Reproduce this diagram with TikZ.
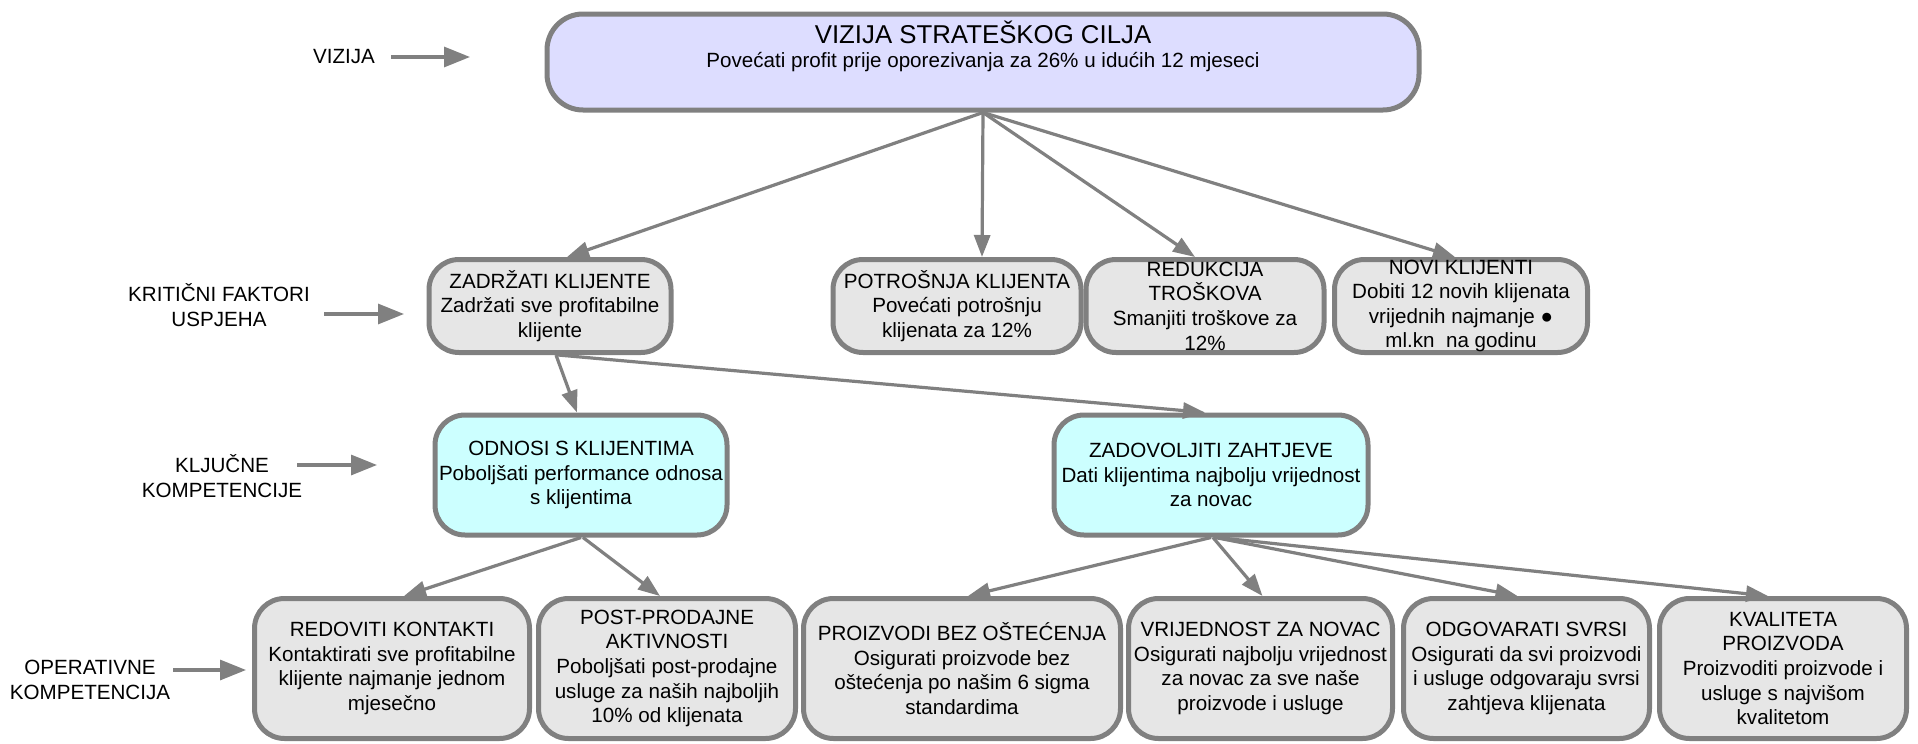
\documentclass[tikz,border=0pt]{standalone}
\usepackage{fontspec}
\setmainfont{Liberation Sans}
\usetikzlibrary{arrows.meta}
\definecolor{lgray}{RGB}{128,128,128}
\definecolor{bgray}{RGB}{230,230,230}
\definecolor{lav}{RGB}{221,221,255}
\definecolor{lcyan}{RGB}{204,255,255}
\newcommand{\bodyfont}{\fontsize{10.3}{12.3}\selectfont}
\begin{document}
\begin{tikzpicture}[x=0.5pt,y=-0.5pt,
  box/.style={draw=lgray,line width=2.5pt,rounded corners=15pt,fill=bgray,inner sep=0pt,align=center,font=\bodyfont},
  conn/.style={draw=lgray,line width=1.6pt,-{Triangle[length=11pt,width=8pt]}},
  lblarrow/.style={draw=lgray,line width=1.6pt,-{Triangle[length=13pt,width=10pt]}},
  lbl/.style={align=center,font=\bodyfont,inner sep=0pt}]
\fill[white] (0,0) rectangle (1918,744);
\useasboundingbox (0,0) rectangle (1918,744);

% top
\node[box,fill=lav,rounded corners=18pt,minimum width=436pt,minimum height=48pt] (top) at (983,62) {};
\node[anchor=base,font=\fontsize{12.9}{15}\selectfont,inner sep=0pt] (toptitle) at (983,43) {VIZIJA STRATEŠKOG CILJA};
\node[anchor=base,font=\bodyfont,inner sep=0pt] (topsub) at (983,68) {Povećati profit prije oporezivanja za 26\% u idućih 12 mjeseci};

% row 2
\node[box,minimum width=121pt,minimum height=46.5pt] (zad) at (550,306) {ZADRŽATI KLIJENTE\\Zadržati sve profitabilne\\klijente};
\node[box,minimum width=124pt,minimum height=46.5pt] (pot) at (957,306) {POTROŠNJA KLIJENTA\\Povećati potrošnju\\klijenata za 12\%};
\node[box,minimum width=119pt,minimum height=46.5pt] (red) at (1205,306) {REDUKCIJA\\TROŠKOVA\\Smanjiti troškove za\\12\%};
\node[box,minimum width=126.5pt,minimum height=46.5pt] (novi) at (1461,306) {NOVI KLIJENTI\\Dobiti 12 novih klijenata\\vrijednih najmanje ●\\ml.kn~ na godinu};

% row 3
\node[box,fill=lcyan,minimum width=146pt,minimum height=60pt] (odn) at (581,475) {ODNOSI S KLIJENTIMA\\Poboljšati performance odnosa\\s klijentima};
\node[box,fill=lcyan,minimum width=157pt,minimum height=60pt] (zadov) at (1211,475) {ZADOVOLJITI ZAHTJEVE\\Dati klijentima najbolju vrijednost\\za novac};

% row 4
\node[box,minimum width=137.5pt,minimum height=70pt] (redo) at (392,668.5) {REDOVITI KONTAKTI\\Kontaktirati sve profitabilne\\klijente najmanje jednom\\mjesečno};
\node[box,minimum width=128.5pt,minimum height=70pt] (post) at (667,668.5) {POST-PRODAJNE\\AKTIVNOSTI\\Poboljšati post-prodajne\\usluge za naših najboljih\\10\% od klijenata};
\node[box,minimum width=158.5pt,minimum height=70pt] (proiz) at (962,668.5) {PROIZVODI BEZ OŠTEĆENJA\\Osigurati proizvode bez\\oštećenja po našim 6 sigma\\standardima};
\node[box,minimum width=132pt,minimum height=70pt] (vrij) at (1260.5,668.5) {VRIJEDNOST ZA NOVAC\\Osigurati najbolju vrijednost\\za novac za sve naše\\proizvode i usluge};
\node[box,minimum width=123pt,minimum height=70pt] (odg) at (1526.5,668.5) {ODGOVARATI SVRSI\\Osigurati da svi proizvodi\\i usluge odgovaraju svrsi\\zahtjeva klijenata};
\node[box,minimum width=123.5pt,minimum height=70pt] (kval) at (1783,668.5) {KVALITETA\\PROIZVODA\\Proizvoditi proizvode i\\usluge s najvišom\\kvalitetom};

% connectors
\draw[conn] (top.south) -- ([xshift=8.5pt]zad.north);
\draw[conn] (top.south) -- ([xshift=12.5pt]pot.north);
\draw[conn] (top.south) -- ([xshift=-5pt]red.north);
\draw[conn] (top.south) -- ([xshift=-3pt]novi.north);
\draw[conn] ([xshift=3pt]zad.south) -- ([xshift=-2pt]odn.north);
\draw[conn] ([xshift=4pt]zad.south) -- ([xshift=-3pt]zadov.north);
\draw[conn] (odn.south) -- ([xshift=6pt]redo.north);
\draw[conn] ([xshift=1pt]odn.south) -- ([xshift=-3.5pt]post.north);
\draw[conn] (zadov.south) -- ([xshift=3pt]proiz.north);
\draw[conn] ([xshift=1pt]zadov.south) -- ([xshift=1pt]vrij.north);
\draw[conn] ([xshift=2pt]zadov.south) -- ([xshift=-4.5pt]odg.north);
\draw[conn] ([xshift=3pt]zadov.south) -- ([xshift=-7.5pt]kval.north);

% side labels
\node[lbl] (lviz) at (344,57) {VIZIJA};
\coordinate (tviz) at (391,57);
\coordinate (hviz) at (470,57);
\draw[lblarrow] (tviz) -- (hviz);

\node[lbl] (lkrit) at (219,305) {KRITIČNI FAKTORI\\USPJEHA};
\coordinate (tkrit) at (324,314);
\coordinate (hkrit) at (404,314);
\draw[lblarrow] (tkrit) -- (hkrit);

\node[lbl] (lklj) at (222,476) {KLJUČNE\\KOMPETENCIJE};
\coordinate (tklj) at (297,465);
\coordinate (hklj) at (377,465);
\draw[lblarrow] (tklj) -- (hklj);

\begin{scope}
\clip (0,0) rectangle (250,701);
\node[lbl] (lop) at (90,680) {OPERATIVNE\\KOMPETENCIJA};
\end{scope}
\coordinate (top4) at (173,670);
\coordinate (hop) at (246,670);
\draw[lblarrow] (top4) -- (hop);
\end{tikzpicture}
\end{document}
